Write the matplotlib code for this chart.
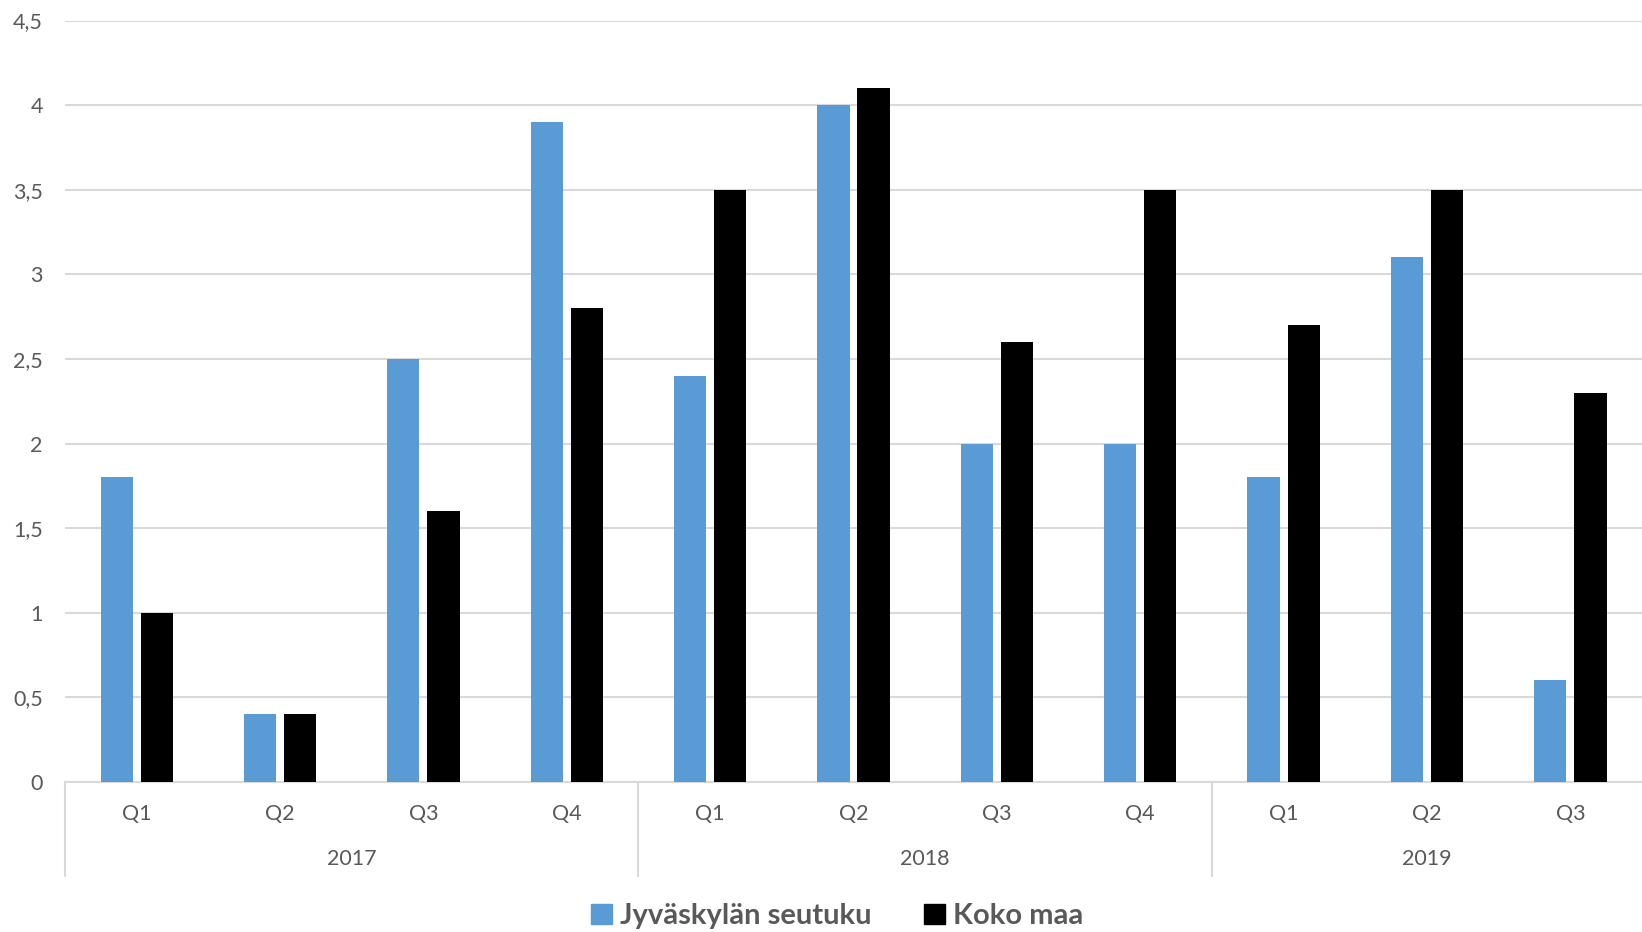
import matplotlib
matplotlib.use("Agg")
import matplotlib.pyplot as plt
import matplotlib.transforms as mtransforms
from matplotlib.patches import Patch
from matplotlib.ticker import FuncFormatter, MultipleLocator
import numpy as np

quarters = ["Q1", "Q2", "Q3", "Q4", "Q1", "Q2", "Q3", "Q4", "Q1", "Q2", "Q3"]
years = ["2017", "2018", "2019"]
year_sizes = [4, 4, 3]
jyvaskyla = [1.8, 0.4, 2.5, 3.9, 2.4, 4.0, 2.0, 2.0, 1.8, 3.1, 0.6]
koko_maa = [1.0, 0.4, 1.6, 2.8, 3.5, 4.1, 2.6, 3.5, 2.7, 3.5, 2.3]

BLUE = "#5B9BD5"
TXT = "#595959"
GRID = "#D9D9D9"

plt.rcParams['font.family'] = ['Lato', 'DejaVu Sans']

fig = plt.figure(figsize=(16.42, 9.32), dpi=100)
ax = fig.add_axes([0.0396, 0.161, 0.9604, 0.817])

x = np.arange(len(quarters))
w = 0.225
off = 0.14
ax.bar(x - off, jyvaskyla, width=w, color=BLUE, zorder=3)
ax.bar(x + off, koko_maa, width=w, color="black", zorder=3)

ax.set_xlim(-0.5, len(quarters) - 0.5)
ax.set_ylim(0, 4.5)
ax.yaxis.set_major_locator(MultipleLocator(0.5))
ax.yaxis.set_major_formatter(FuncFormatter(lambda v, p: ("%g" % v).replace(".", ",")))
ax.grid(axis="y", color=GRID, linewidth=1.5, zorder=0)
ax.set_axisbelow(True)

for s in ["top", "right", "left"]:
    ax.spines[s].set_visible(False)
ax.spines["bottom"].set_color(GRID)
ax.spines["bottom"].set_linewidth(1.5)

ax.set_xticks(x)
ax.set_xticklabels(quarters)
ax.tick_params(axis="x", length=0, pad=16, labelsize=15.5, labelcolor=TXT)
ax.tick_params(axis="y", length=0, pad=16, labelsize=15.5, labelcolor=TXT)

# year labels and separators under the quarter labels
trans = mtransforms.blended_transform_factory(ax.transData, ax.transAxes)
start = 0
for yr, n in zip(years, year_sizes):
    ax.plot([start - 0.5, start - 0.5], [0, -0.123], transform=trans,
            color=GRID, linewidth=1.5, clip_on=False)
    ax.text(start + (n - 1) / 2, -0.101, yr, transform=trans, ha="center",
            va="center", fontsize=15.5, color=TXT)
    start += n

handles = [Patch(color=BLUE, label="Jyväskylän seutuku"),
           Patch(color="black", label="Koko maa")]
leg = fig.legend(handles=handles, loc="center", bbox_to_anchor=(0.51, 0.017), ncol=2,
                 frameon=False, handlelength=0.7, handleheight=0.7,
                 handletextpad=0.3, columnspacing=1.8,
                 prop={"size": 21, "weight": "bold"})
for t in leg.get_texts():
    t.set_color(TXT)

fig.savefig("out.png", dpi=100)
